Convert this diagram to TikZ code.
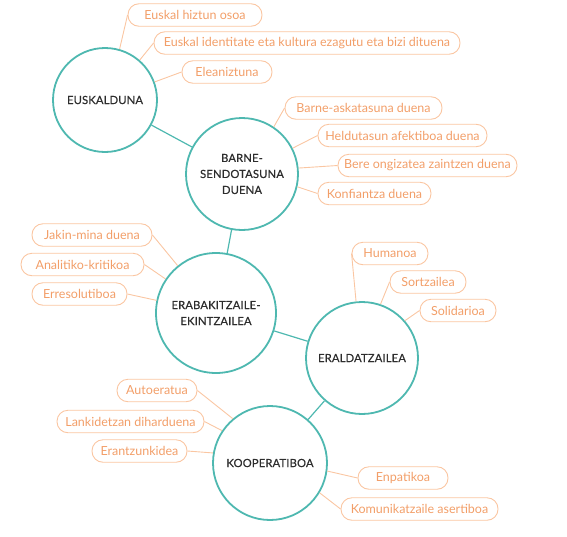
\documentclass[tikz,border=0pt]{standalone}
\usepackage{fontspec}
\setmainfont{Lato}
\newfontfamily\capsfont[LetterSpace=1.5,FakeBold=0.4]{Lato}
\usetikzlibrary{positioning}

\definecolor{tealring}{RGB}{78,184,176}
\definecolor{peachtext}{RGB}{242,158,104}
\definecolor{peachline}{RGB}{250,198,162}
\definecolor{darktext}{RGB}{45,45,45}

\tikzset{
	trait/.style={draw=peachline, line width=0.9pt, rounded corners=11pt,
	      minimum height=22.5pt, inner xsep=0pt, text=peachtext,
	      font=\fontsize{12.5}{14}\selectfont},
	profile/.style={draw=tealring, line width=1.8pt, circle, inner sep=0pt,
	      fill=white, align=center, text=darktext,
	      font=\capsfont\fontsize{11.2}{16}\selectfont},
	linkline/.style={draw=tealring, line width=1.2pt},
	traitline/.style={draw=peachline, line width=0.9pt}
}

\begin{document}
\begin{tikzpicture}[x=1pt, y=-1pt]
		\useasboundingbox (0,0) rectangle (567,536);
		
		%Profile circles
		\node[profile, minimum size=104pt] (eusk) at (105,100){EUSKALDUNA};
		\node[profile, minimum size=112pt] (barne) at (242,174){BARNE-\\SENDOTASUNA\\DUENA};
		\node[profile, minimum size=120pt] (eraba) at (216,313){ERABAKITZAILE-\\EKINTZAILEA};
		\node[profile, minimum size=112pt] (erald) at (362,358){ERALDATZAILEA};
		\node[profile, minimum size=114pt] (koop) at (270,463){KOOPERATIBOA};
		
		\draw[linkline] (eusk) -- (barne);
		\draw[linkline] (barne) -- (eraba);
		\draw[linkline] (eraba) -- (erald);
		\draw[linkline] (erald) -- (koop);
		
		%Euskalduna traits
		\node[trait, minimum width=134pt] (hiztun) at (195,15){Euskal hiztun osoa};
		\node[trait, minimum width=306pt] (identitate) at (307,43){Euskal identitate eta kultura ezagutu eta bizi dituena};
		\node[trait, minimum width=90pt] (elean) at (227,72){Eleaniztuna};
		\draw[traitline] (eusk.74) -- (hiztun.west);
		\draw[traitline] (eusk.49) -- (identitate.west);
		\draw[traitline] (eusk.20) -- (elean.west);
		
		%Barne-sendotasuna traits
		\node[trait, minimum width=157pt] (askat) at (363.5,108){Barne-askatasuna duena};
		\node[trait, minimum width=169pt] (heldu) at (402.5,135.5){Heldutasun afektiboa duena};
		\node[trait, minimum width=179pt] (ongiz) at (427.5,165.5){Bere ongizatea zaintzen duena};
		\node[trait, minimum width=113pt] (konfi) at (374.5,193.5){Konfiantza duena};
		\draw[traitline] (barne.56) -- (askat.west);
		\draw[traitline] (barne.27) -- (heldu.west);
		\draw[traitline] (barne.6) -- (ongiz.west);
		\draw[traitline] (barne.-13) -- (konfi.west);
		
		%Erabakitzaile traits
		\node[trait, minimum width=120pt] (jakin) at (92,235){Jakin-mina duena};
		\node[trait, minimum width=123pt] (anali) at (82.5,264.5){Analitiko-kritikoa};
		\node[trait, minimum width=95pt] (erres) at (79.5,294){Erresolutiboa};
		\draw[traitline] (jakin.east) -- (eraba.129);
		\draw[traitline] (anali.east) -- (eraba.146);
		\draw[traitline] (erres.east) -- (eraba.168);
		
		%Eraldatzaile traits
		\node[trait, minimum width=76pt] (human) at (390,253.5){Humanoa};
		\node[trait, minimum width=76pt] (sortz) at (428,282){Sortzailea};
		\node[trait, minimum width=76pt] (solid) at (458,310.5){Solidarioa};
		\draw[traitline] (human.west) -- (erald.96);
		\draw[traitline] (sortz.west) -- (erald.71);
		\draw[traitline] (solid.west) -- (erald.41);
		
		%Kooperatibo traits
		\node[trait, minimum width=80pt] (autoe) at (157,390.5){Autoeratua};
		\node[trait, minimum width=147pt] (lanki) at (130.5,421.5){Lankidetzan diharduena};
		\node[trait, minimum width=95pt] (erant) at (139.5,451){Erantzunkidea};
		\node[trait, minimum width=90pt] (enpat) at (403,478){Enpatikoa};
		\node[trait, minimum width=157pt] (komun) at (419.5,509){Komunikatzaile asertiboa};
		\draw[traitline] (autoe.east) -- (koop.130);
		\draw[traitline] (lanki.east) -- (koop.146);
		\draw[traitline] (erant.east) -- (koop.170);
		\draw[traitline] (koop.-8) -- (enpat.west);
		\draw[traitline] (koop.-31) -- (komun.west);
	\end{tikzpicture}
\end{document}
